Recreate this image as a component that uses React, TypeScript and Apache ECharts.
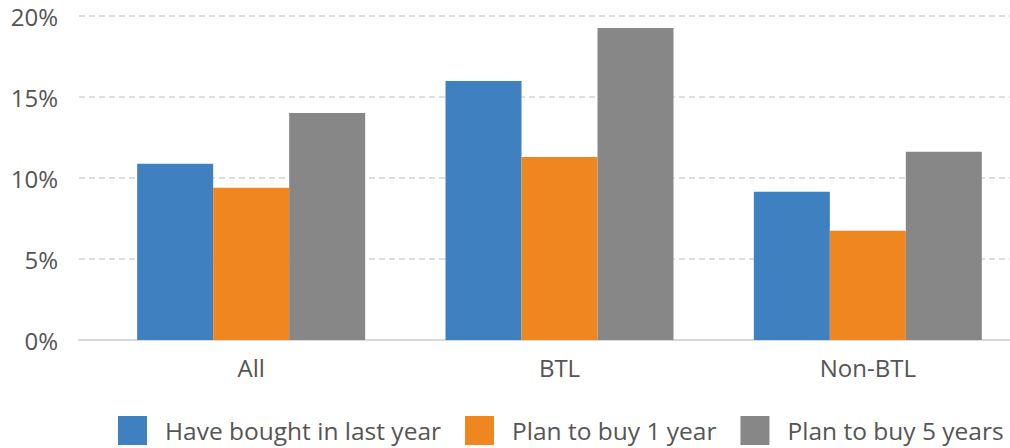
import React, { useEffect, useRef } from "react";
import * as echarts from "echarts";

const categories = ["All", "BTL", "Non-BTL"];
const seriesNames = ["Have bought in last year", "Plan to buy 1 year", "Plan to buy 5 years"];
const haveBought = [10.88, 15.99, 9.15];
const planOneYear = [9.4, 11.3, 6.75];
const planFiveYears = [14.02, 19.26, 11.62];
const colors = ["#3F80C1", "#F0861F", "#878787"];

const FONT = "'Open Sans', Lato, sans-serif";
const TEXT_COLOR = "#555555";

export default function App() {
  const ref = useRef<HTMLDivElement>(null);
  useEffect(() => {
    if (!ref.current) return;
    const chart = echarts.init(ref.current, undefined, { renderer: "svg" });
    const values = [haveBought, planOneYear, planFiveYears];
    chart.setOption({
      animation: false,
      textStyle: { fontFamily: FONT },
      grid: [
        { left: 79, top: 16, bottom: 108, width: 931 },
        { left: 97, top: 16, bottom: 108, width: 925 },
      ],
      xAxis: [
        {
          type: "category",
          gridIndex: 0,
          data: [""],
          axisLine: { show: true, lineStyle: { color: "#d9d9d9", width: 2 } },
          axisTick: { show: false },
          axisLabel: { show: false },
        },
        {
          type: "category",
          gridIndex: 1,
          data: categories,
          axisLine: { show: false },
          axisTick: { show: false },
          axisLabel: { color: TEXT_COLOR, fontSize: 24, margin: 15, fontFamily: FONT },
        },
      ],
      yAxis: [
        {
          type: "value",
          gridIndex: 0,
          min: 0,
          max: 20,
          interval: 5,
          axisLine: { show: false },
          axisTick: { show: false },
          axisLabel: {
            color: TEXT_COLOR,
            fontSize: 24,
            margin: 21,
            fontFamily: FONT,
            formatter: (v: number) => `${v}%`,
          },
          splitLine: { lineStyle: { color: "#dedede", width: 2, type: [6, 4] } },
        },
        {
          type: "value",
          gridIndex: 1,
          min: 0,
          max: 20,
          interval: 5,
          axisLine: { show: false },
          axisTick: { show: false },
          axisLabel: { show: false },
          splitLine: { show: false },
        },
      ],
      legend: {
        left: 118,
        top: 416,
        padding: 0,
        itemWidth: 29,
        itemHeight: 29,
        itemGap: 24,
        icon: "rect",
        textStyle: { color: TEXT_COLOR, fontSize: 24.5, fontFamily: FONT, padding: [0, 0, 0, 13] },
        data: seriesNames,
      },
      series: seriesNames.map((name, i) => ({
        name,
        type: "bar",
        xAxisIndex: 1,
        yAxisIndex: 1,
        data: values[i],
        barWidth: 76,
        barGap: "0%",
        itemStyle: { color: colors[i] },
      })),
    });
    return () => chart.dispose();
  }, []);
  return (
    <div style={{ position: "fixed", left: 0, top: 0, width: 1010, height: 448, overflow: "hidden", background: "#fff" }}>
      <div ref={ref} style={{ width: 1022, height: 448 }} />
    </div>
  );
}
